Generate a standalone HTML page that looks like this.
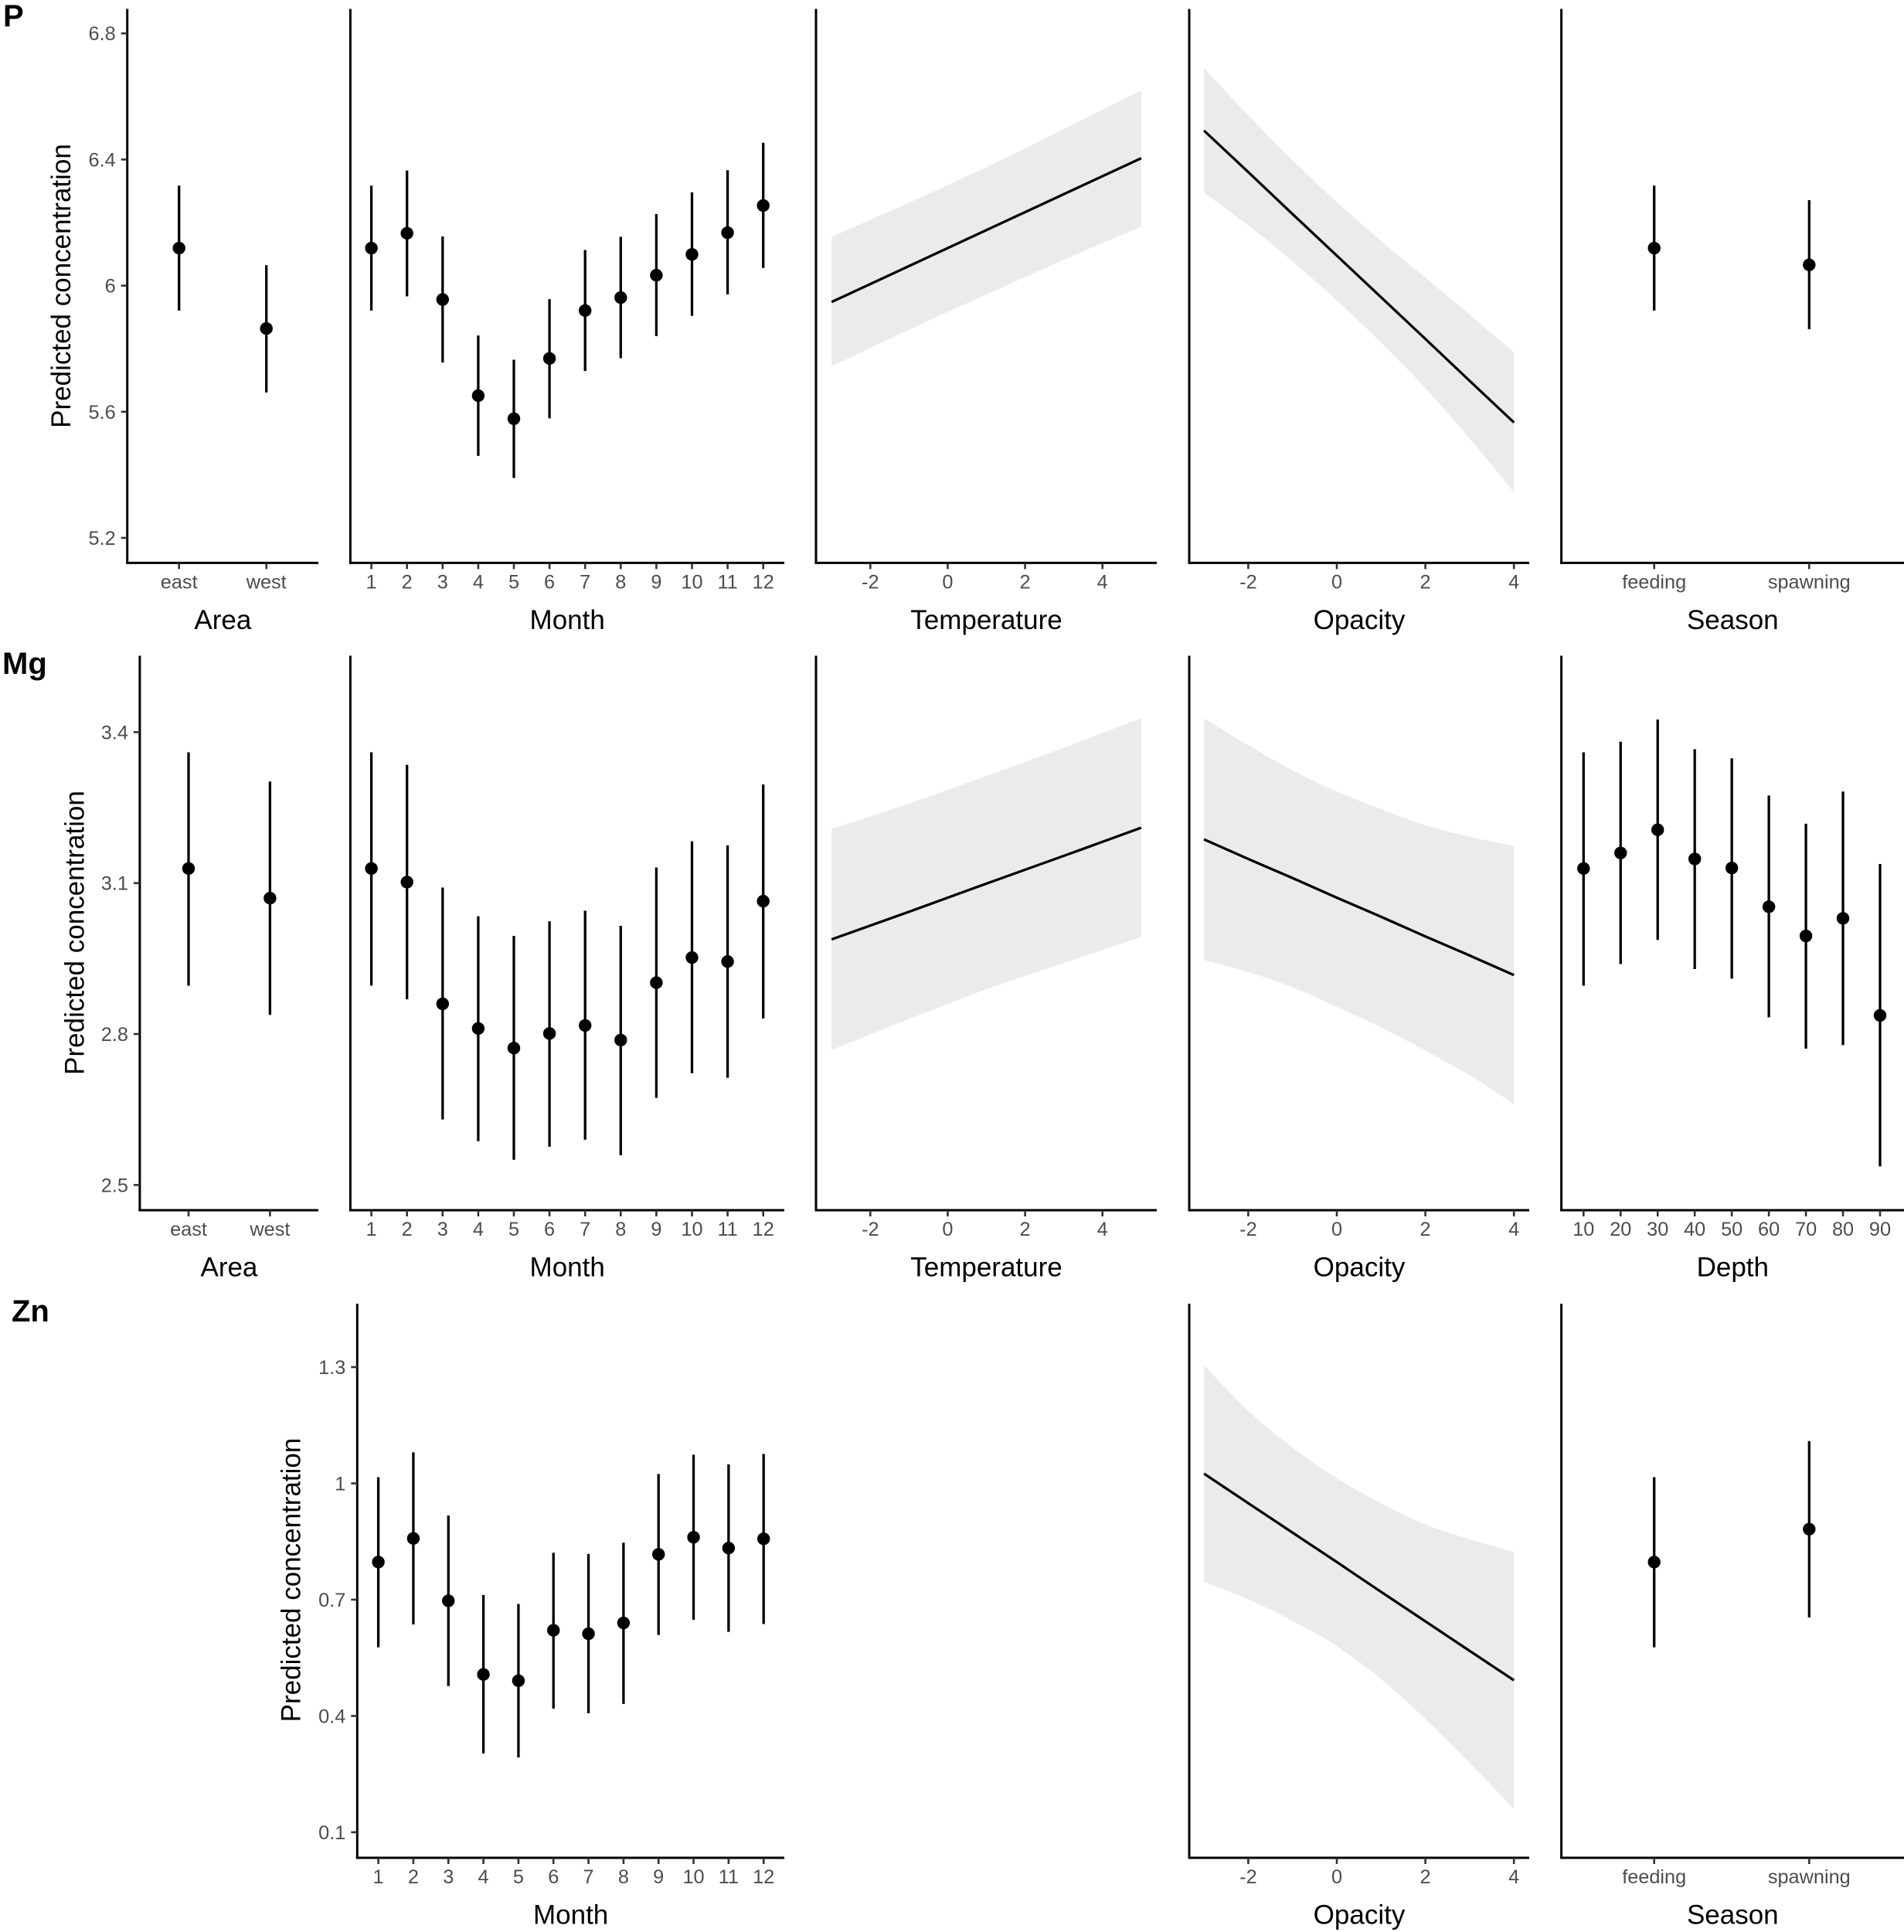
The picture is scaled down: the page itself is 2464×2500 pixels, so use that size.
<!DOCTYPE html>
<html lang="en">
<head>
<meta charset="utf-8">
<title>Predicted concentration of P, Mg and Zn</title>
<style>
html,body{margin:0;padding:0;background:#fff;}
svg{display:block;}
text{font-family:"Liberation Sans",Arial,sans-serif;}
.tick-label{font-size:25.3px;fill:#4d4d4d;}
.axis-title{font-size:35px;fill:#000;}
.row-tag{font-size:40px;font-weight:bold;fill:#000;}
</style>
</head>
<body>
<svg id="chart" xmlns="http://www.w3.org/2000/svg" width="2464" height="2500" viewBox="0 0 2464 2500">
  <rect x="0" y="0" width="2464" height="2500" fill="#ffffff"/>
  <text class="row-tag" x="4" y="34">P</text>
  <text class="row-tag" x="3" y="872">Mg</text>
  <text class="row-tag" x="15" y="1710">Zn</text>
</svg>
<script>
// ---------- categories and tick labels ----------
const areaCategories = ['east', 'west'];
const monthCategories = ['1', '2', '3', '4', '5', '6', '7', '8', '9', '10', '11', '12'];
const seasonCategories = ['feeding', 'spawning'];
const depthCategories = ['10', '20', '30', '40', '50', '60', '70', '80', '90'];
const continuousTicks = [-2, 0, 2, 4];
const pTicks = [5.2, 5.6, 6, 6.4, 6.8];
const mgTicks = [2.5, 2.8, 3.1, 3.4];
const znTicks = [0.1, 0.4, 0.7, 1, 1.3];
const temperatureGrid = [-3, -1, 1, 3, 5];
const opacityGrid = [-3, -2, -1, 0, 1, 2, 3, 4];

// ---------- P ----------
const pAreaFit = [6.119, 5.864];
const pAreaUpper = [6.317, 6.065];
const pAreaLower = [5.921, 5.661];
const pMonthFit = [6.119, 6.166, 5.956, 5.651, 5.578, 5.769, 5.921, 5.962, 6.033, 6.099, 6.168, 6.254];
const pMonthUpper = [6.317, 6.365, 6.156, 5.842, 5.765, 5.957, 6.113, 6.155, 6.227, 6.296, 6.366, 6.453];
const pMonthLower = [5.921, 5.966, 5.756, 5.460, 5.390, 5.579, 5.729, 5.770, 5.840, 5.904, 5.972, 6.056];
const pTempFit = [5.948, 6.062, 6.176, 6.290, 6.404];
const pTempUpper = [6.155, 6.263, 6.376, 6.496, 6.619];
const pTempLower = [5.744, 5.860, 5.972, 6.082, 6.187];
const pOpacityFit = [6.492, 6.360, 6.227, 6.095, 5.963, 5.831, 5.698, 5.566];
const pOpacityUpper = [6.690, 6.540, 6.398, 6.265, 6.142, 6.025, 5.908, 5.788];
const pOpacityLower = [6.295, 6.191, 6.077, 5.953, 5.819, 5.675, 5.515, 5.344];
const pSeasonFit = [6.119, 6.066];
const pSeasonUpper = [6.317, 6.271];
const pSeasonLower = [5.921, 5.862];

// ---------- Mg ----------
const mgAreaFit = [3.129, 3.070];
const mgAreaUpper = [3.360, 3.302];
const mgAreaLower = [2.896, 2.838];
const mgMonthFit = [3.129, 3.102, 2.860, 2.811, 2.772, 2.801, 2.817, 2.788, 2.902, 2.952, 2.944, 3.064];
const mgMonthUpper = [3.360, 3.335, 3.091, 3.034, 2.995, 3.024, 3.045, 3.015, 3.131, 3.183, 3.175, 3.296];
const mgMonthLower = [2.896, 2.869, 2.630, 2.587, 2.550, 2.576, 2.590, 2.559, 2.673, 2.722, 2.713, 2.831];
const mgTempFit = [2.988, 3.043, 3.099, 3.154, 3.210];
const mgTempUpper = [3.208, 3.258, 3.313, 3.369, 3.428];
const mgTempLower = [2.768, 2.830, 2.889, 2.941, 2.993];
const mgOpacityFit = [3.187, 3.148, 3.110, 3.071, 3.033, 2.994, 2.956, 2.917];
const mgOpacityUpper = [3.427, 3.374, 3.324, 3.282, 3.247, 3.215, 3.192, 3.174];
const mgOpacityLower = [2.947, 2.923, 2.893, 2.854, 2.813, 2.767, 2.718, 2.661];
const mgDepthFit = [3.129, 3.160, 3.206, 3.148, 3.130, 3.053, 2.995, 3.030, 2.837];
const mgDepthUpper = [3.360, 3.381, 3.425, 3.366, 3.348, 3.274, 3.218, 3.282, 3.138];
const mgDepthLower = [2.896, 2.939, 2.987, 2.929, 2.910, 2.833, 2.771, 2.778, 2.537];

// ---------- Zn ----------
const znMonthFit = [0.797, 0.858, 0.697, 0.507, 0.491, 0.621, 0.612, 0.640, 0.817, 0.861, 0.833, 0.857];
const znMonthUpper = [1.016, 1.080, 0.917, 0.712, 0.689, 0.821, 0.818, 0.847, 1.024, 1.074, 1.049, 1.076];
const znMonthLower = [0.577, 0.636, 0.477, 0.303, 0.293, 0.419, 0.407, 0.431, 0.609, 0.648, 0.617, 0.637];
const znOpacityFit = [1.025, 0.949, 0.873, 0.797, 0.720, 0.644, 0.568, 0.492];
const znOpacityUpper = [1.305, 1.187, 1.092, 1.013, 0.949, 0.894, 0.856, 0.823];
const znOpacityLower = [0.745, 0.701, 0.645, 0.580, 0.495, 0.392, 0.279, 0.160];
const znSeasonFit = [0.797, 0.882];
const znSeasonUpper = [1.016, 1.109];
const znSeasonLower = [0.577, 0.654];

// ---------- drawing helpers ----------
const SVG_NS = 'http://www.w3.org/2000/svg';
const chart = document.getElementById('chart');

function scaleLinear(d0, d1, r0, r1) {
  return function (v) { return r0 + (v - d0) * (r1 - r0) / (d1 - d0); };
}
function shape(parent, tag, attrs) {
  const el = document.createElementNS(SVG_NS, tag);
  Object.keys(attrs).forEach(function (k) { el.setAttribute(k, attrs[k]); });
  parent.appendChild(el);
  return el;
}
function panelGroup(key) {
  const g = shape(chart, 'g', {});
  
  
  return g;
}
function drawFrame(g, frame, yScale, xTitle) {
  const yLine = shape(g, 'line', { x1: frame.left, x2: frame.left, y1: frame.top, y2: frame.bottom + 1.5, stroke: '#000', 'stroke-width': 3 });
  
  
  const xLine = shape(g, 'line', { x1: frame.left - 1.5, x2: frame.right, y1: frame.bottom, y2: frame.bottom, stroke: '#000', 'stroke-width': 3 });
  
  
  const title = shape(g, 'text', { class: 'axis-title', x: (frame.left + frame.right) / 2, y: frame.bottom + 85.5, 'text-anchor': 'middle' });
  title.textContent = xTitle;
  
  
}
function drawXTick(g, frame, px, label) {
  const tick = shape(g, 'line', { x1: px, x2: px, y1: frame.bottom, y2: frame.bottom + 8, stroke: '#333', 'stroke-width': 2.6 });
  
  
  const text = shape(g, 'text', { class: 'tick-label', x: px, y: frame.bottom + 33, 'text-anchor': 'middle' });
  text.textContent = label;
  
  
}
function drawYAxis(g, frame, yScale, ticks, titleX, titleY) {
  ticks.forEach(function (v) {
    const py = yScale(v);
    const tick = shape(g, 'line', { x1: frame.left - 8, x2: frame.left, y1: py, y2: py, stroke: '#333', 'stroke-width': 2.6 });
    
    
    const text = shape(g, 'text', { class: 'tick-label', x: frame.left - 15, y: py + 9, 'text-anchor': 'end' });
    text.textContent = String(v);
    
    
  });
  const title = shape(g, 'text', { class: 'axis-title', x: 0, y: 0, 'text-anchor': 'middle', transform: 'translate(' + titleX + ',' + titleY + ') rotate(-90)' });
  title.textContent = 'Predicted concentration';
  
  
}
function drawCategorical(key, frame, yScale, xTitle, categories, fit, upper, lower, firstPx, lastPx) {
  const g = panelGroup(key);
  const xScale = scaleLinear(0, categories.length - 1, firstPx, lastPx);
  drawFrame(g, frame, yScale, xTitle);
  categories.forEach(function (label, i) {
    drawXTick(g, frame, xScale(i), label);
    const bar = shape(g, 'line', { x1: xScale(i), x2: xScale(i), y1: yScale(upper[i]), y2: yScale(lower[i]), stroke: '#000', 'stroke-width': 3.3 });
    
    
    const dot = shape(g, 'circle', { cx: xScale(i), cy: yScale(fit[i]), r: 8.2, fill: '#000' });
    
    
  });
  return g;
}
// Catmull-Rom smoothing through the read-off band values, so ribbons have no kinks.
function smoothSegments(pts) {
  let d = '';
  for (let i = 0; i < pts.length - 1; i++) {
    const p0 = pts[Math.max(i - 1, 0)];
    const p1 = pts[i];
    const p2 = pts[i + 1];
    const p3 = pts[Math.min(i + 2, pts.length - 1)];
    const c1x = p1[0] + (p2[0] - p0[0]) / 6;
    const c1y = p1[1] + (p2[1] - p0[1]) / 6;
    const c2x = p2[0] - (p3[0] - p1[0]) / 6;
    const c2y = p2[1] - (p3[1] - p1[1]) / 6;
    d += ' C' + c1x.toFixed(1) + ',' + c1y.toFixed(1) + ' ' + c2x.toFixed(1) + ',' + c2y.toFixed(1) + ' ' + p2[0].toFixed(1) + ',' + p2[1].toFixed(1);
  }
  return d;
}
function drawContinuous(key, frame, yScale, xTitle, grid, fit, upper, lower, tickLoPx, tickHiPx) {
  const g = panelGroup(key);
  const xScale = scaleLinear(-2, 4, tickLoPx, tickHiPx);
  const upperPts = grid.map(function (t, i) { return [xScale(t), yScale(upper[i])]; });
  const lowerPts = grid.map(function (t, i) { return [xScale(t), yScale(lower[i])]; }).reverse();
  const pathData = 'M' + upperPts[0][0].toFixed(1) + ',' + upperPts[0][1].toFixed(1) + smoothSegments(upperPts) +
    ' L' + lowerPts[0][0].toFixed(1) + ',' + lowerPts[0][1].toFixed(1) + smoothSegments(lowerPts) + ' Z';
  const band = shape(g, 'path', { d: pathData, fill: '#ebebeb' });
  
  
  const fitPts = grid.map(function (t, i) { return xScale(t).toFixed(1) + ',' + yScale(fit[i]).toFixed(1); });
  const line = shape(g, 'polyline', { points: fitPts.join(' '), fill: 'none', stroke: '#000', 'stroke-width': 3.3 });
  
  
  drawFrame(g, frame, yScale, xTitle);
  continuousTicks.forEach(function (t) { drawXTick(g, frame, xScale(t), String(t)); });
  return g;
}

// ---------- row scales ----------
const yP = scaleLinear(5.2, 6.8, 696, 43.2);
const yMg = scaleLinear(2.5, 3.4, 1533.3, 947.4);
const yZn = scaleLinear(0.1, 1.3, 2370.9, 1769);

const rowP = { top: 11.5, bottom: 728.4 };
const rowMg = { top: 848.5, bottom: 1566 };
const rowZn = { top: 1687, bottom: 2404 };
function frame(row, left, right) {
  return { top: row.top, bottom: row.bottom, left: left, right: right };
}

// ---------- row P ----------
const fPA = frame(rowP, 164.7, 412);
drawYAxis(drawCategorical('p-area', fPA, yP, 'Area', areaCategories, pAreaFit, pAreaUpper, pAreaLower, 231.7, 344.7), fPA, yP, pTicks, 91, 370);
drawCategorical('p-month', frame(rowP, 453.4, 1015), yP, 'Month', monthCategories, pMonthFit, pMonthUpper, pMonthLower, 480.6, 987.7);
drawContinuous('p-temperature', frame(rowP, 1056, 1497), yP, 'Temperature', temperatureGrid, pTempFit, pTempUpper, pTempLower, 1126.3, 1426.7);
drawContinuous('p-opacity', frame(rowP, 1539, 1979), yP, 'Opacity', opacityGrid, pOpacityFit, pOpacityUpper, pOpacityLower, 1615.4, 1959.2);
drawCategorical('p-season', frame(rowP, 2020.6, 2464), yP, 'Season', seasonCategories, pSeasonFit, pSeasonUpper, pSeasonLower, 2140.7, 2341.3);

// ---------- row Mg ----------
const fMA = frame(rowMg, 180.9, 412);
drawYAxis(drawCategorical('mg-area', fMA, yMg, 'Area', areaCategories, mgAreaFit, mgAreaUpper, mgAreaLower, 244, 349.4), fMA, yMg, mgTicks, 108.5, 1207);
drawCategorical('mg-month', frame(rowMg, 453.4, 1015), yMg, 'Month', monthCategories, mgMonthFit, mgMonthUpper, mgMonthLower, 480.6, 987.7);
drawContinuous('mg-temperature', frame(rowMg, 1056, 1497), yMg, 'Temperature', temperatureGrid, mgTempFit, mgTempUpper, mgTempLower, 1126.3, 1426.7);
drawContinuous('mg-opacity', frame(rowMg, 1539, 1979), yMg, 'Opacity', opacityGrid, mgOpacityFit, mgOpacityUpper, mgOpacityLower, 1615.4, 1959.2);
drawCategorical('mg-depth', frame(rowMg, 2020.6, 2464), yMg, 'Depth', depthCategories, mgDepthFit, mgDepthUpper, mgDepthLower, 2049.3, 2433);

// ---------- row Zn ----------
const fZM = frame(rowZn, 462.3, 1015);
drawYAxis(drawCategorical('zn-month', fZM, yZn, 'Month', monthCategories, znMonthFit, znMonthUpper, znMonthLower, 489.6, 988.2), fZM, yZn, znTicks, 388.5, 2044.5);
drawContinuous('zn-opacity', frame(rowZn, 1539, 1979), yZn, 'Opacity', opacityGrid, znOpacityFit, znOpacityUpper, znOpacityLower, 1615.4, 1959.2);
drawCategorical('zn-season', frame(rowZn, 2020.6, 2464), yZn, 'Season', seasonCategories, znSeasonFit, znSeasonUpper, znSeasonLower, 2140.7, 2341.3);
</script>
</body>
</html>
